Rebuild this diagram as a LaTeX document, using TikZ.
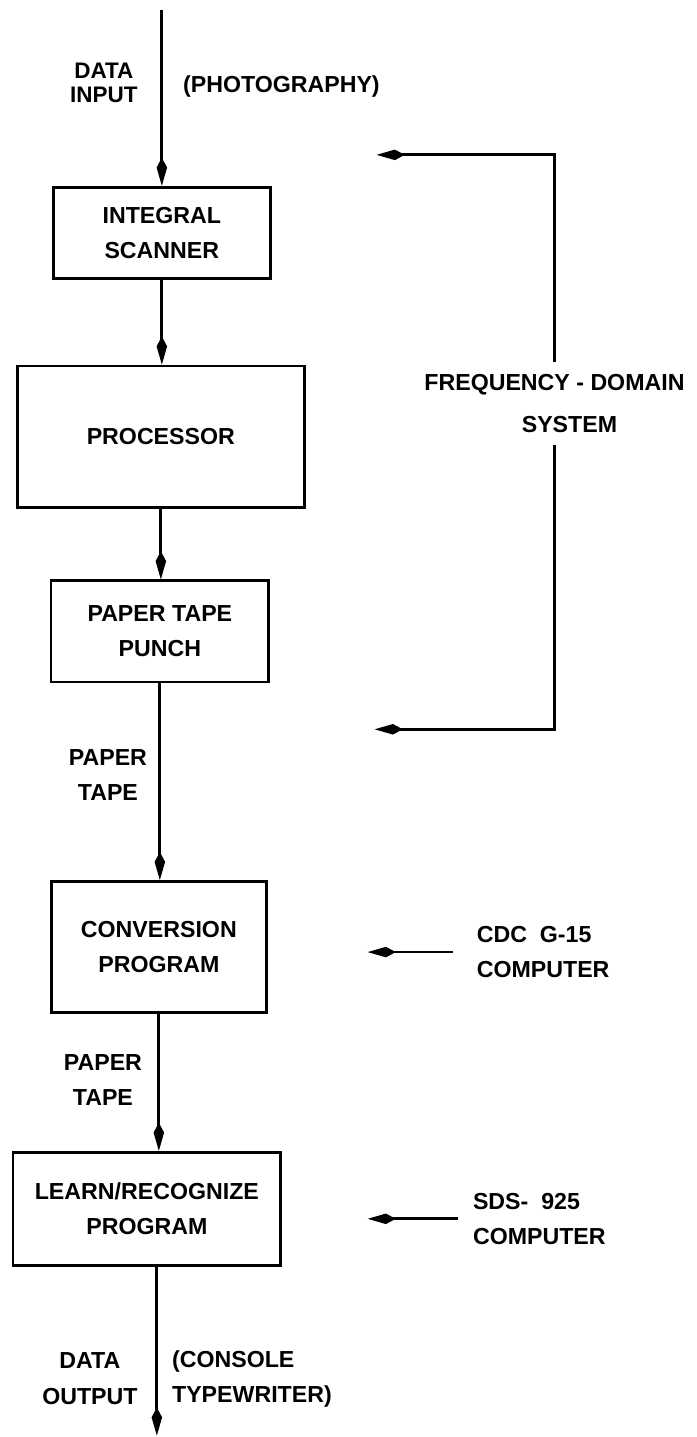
\documentclass[tikz,border=0pt]{standalone}
\usepackage{fontspec}
\setmainfont{Liberation Sans}
\usepackage{tikz}
\usetikzlibrary{arrows.meta, positioning, calc}

\begin{document}
\begin{tikzpicture}[x=0.025cm, y=-0.025cm,
    box/.style={draw, line width=2pt, align=center, inner sep=0pt,
                font=\bfseries\fontsize{16.5}{25}\selectfont},
    lbl/.style={align=center, inner sep=0pt,
                font=\bfseries\fontsize{16.5}{25}\selectfont},
    flow/.style={line width=2pt, -{Kite[length=20pt, width=7.5pt, inset=7pt]}}]
  \path[fill=white] (0,0) rectangle (690,1437);

  % Blocks of the chain
  \node[box, minimum width=5.43cm, minimum height=2.28cm] (scan) at (162,233) {INTEGRAL\\SCANNER};
  \node[box, minimum width=7.18cm, minimum height=3.53cm] (proc) at (161,437) {PROCESSOR};
  \node[box, minimum width=5.45cm, minimum height=2.53cm] (punch) at (160,632) {PAPER TAPE\\PUNCH};
  \node[box, minimum width=5.38cm, minimum height=3.28cm] (conv) at (159,948) {CONVERSION\\PROGRAM};
  \node[box, minimum width=6.70cm, minimum height=2.83cm] (learn) at (147,1210) {LEARN/RECOGNIZE\\PROGRAM};

  % Input and output ends
  \coordinate (in) at (162,10);
  \coordinate (out) at (157,1437);

  % Chain arrows
  \draw[flow] (in) -- (scan.north);
  \draw[flow] (scan.south) -- (scan.south |- proc.north);
  \draw[flow] (proc.south) -- (proc.south |- punch.north);
  \draw[flow] (punch.south) -- (punch.south |- conv.north);
  \draw[flow] (conv.south) -- (conv.south |- learn.north);
  \draw[flow] (learn.south -| out) -- (out);

  % Labels along the chain
  \node[lbl, font=\bfseries\fontsize{16}{17}\selectfont] (datain) at (104,83) {DATA\\INPUT};
  \node[lbl, anchor=west] (photo) at (183,87) {(PHOTOGRAPHY)};
  \node[lbl] (tape1) at (108,776) {PAPER\\TAPE};
  \node[lbl] (tape2) at (103,1081) {PAPER\\TAPE};
  \node[lbl] (dataout) at (90,1380) {DATA\\OUTPUT};
  \node[lbl, anchor=west, align=left] (console) at (172,1380) {(CONSOLE\\TYPEWRITER)};

  % Frequency-domain system loop
  \node[lbl, inner sep=0.3cm, font=\bfseries\fontsize{16.5}{30}\selectfont] (fds) at (555,404)
       {FREQUENCY - DOMAIN\\\hspace*{0.75cm}SYSTEM};
  \coordinate (fbtop) at (377,155);
  \coordinate (fbbot) at (375,730);
  \draw[flow] (fds.north) |- (fbtop);
  \draw[flow] (fds.south) |- (fbbot);

  % Computers
  \node[lbl, anchor=west, align=left, inner xsep=0.6cm] (cdc) at (453,953) {CDC\ \ G-15\\COMPUTER};
  \node[lbl, anchor=west, align=left, inner xsep=0.38cm] (sds) at (458,1220) {SDS-\ \ 925\\COMPUTER};
  \coordinate (cdcend) at (368,953);
  \coordinate (sdsend) at (368,1220);
  \draw[flow] (cdc.west) -- (cdcend);
  \draw[flow] (sds.west) -- (sdsend);
\end{tikzpicture}
\end{document}
